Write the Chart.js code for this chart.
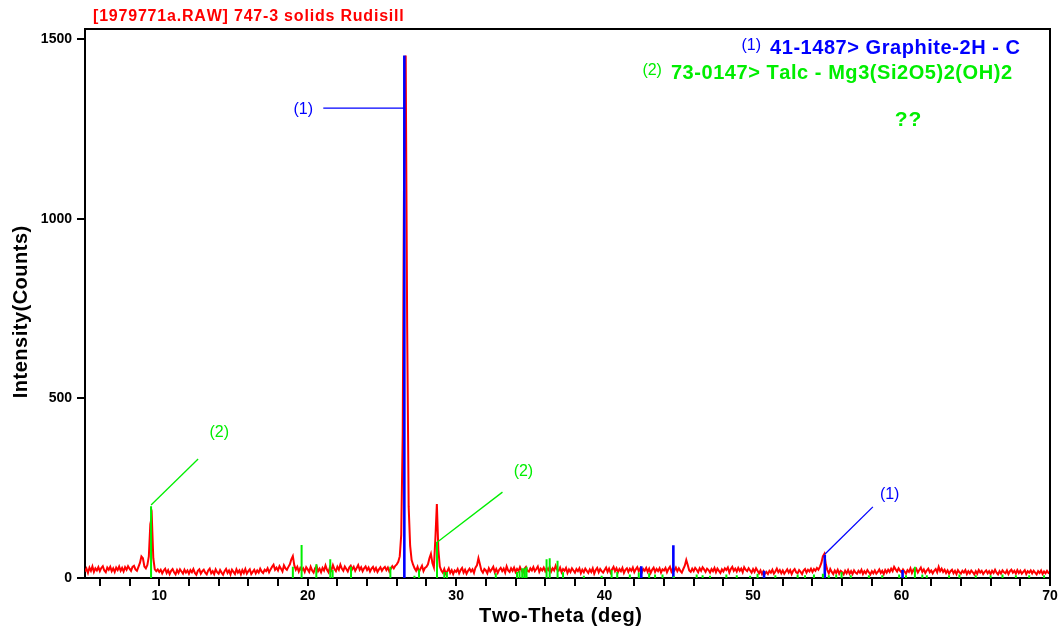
<!DOCTYPE html>
<html>
<head>
<meta charset="utf-8">
<script src="https://cdn.jsdelivr.net/npm/chart.js@4.4.1/dist/chart.umd.min.js"></script>
<style>
html,body{margin:0;padding:0;background:#fff;}
#wrap{width:1060px;height:635px;}
</style>
</head>
<body>
<div id="wrap"><canvas id="c" width="1060" height="635"></canvas></div>
<script>
// ---- Data ----
const chartTitle = "[1979771a.RAW] 747-3 solids Rudisill";
const xTitle = "Two-Theta (deg)";
const yTitle = "Intensity(Counts)";
const xTickValues = [6,8,10,12,14,16,18,20,22,24,26,28,30,32,34,36,38,40,42,44,46,48,50,52,54,56,58,60,62,64,66,68,70];
const xTickLabels = [10,20,30,40,50,60,70];
const yTickValues = [0,500,1000,1500];

// measured scan: two-theta start and step, counts
const scanStart = 5.0;
const scanStep = 0.1;
const scanCounts = [
18,26,14,29,20,32,17,27,21,30,
19,28,33,21,16,29,23,31,19,27,
17,29,22,32,20,28,18,30,23,33,
26,20,31,34,24,20,31,42,60,55,
32,27,36,60,150,170,55,24,19,24,
17,23,13,21,26,14,22,11,20,25,
16,10,22,14,24,18,12,23,15,21,
12,22,16,25,14,9,20,24,12,19,
23,15,10,21,26,13,19,11,24,16,
12,22,15,9,19,25,14,21,10,23,
17,11,24,15,21,10,22,14,25,12,
19,24,11,17,23,13,21,15,26,18,
14,23,19,27,16,24,31,37,23,29,
21,33,26,18,35,27,23,31,38,52,
61,35,23,31,18,28,21,27,17,30,
24,17,31,21,15,27,33,19,26,16,
28,21,35,23,16,30,22,36,25,19,
31,23,37,26,20,32,25,18,29,34,
24,31,20,28,36,23,30,19,27,32,
22,29,18,26,31,20,28,17,24,30,
20,27,31,22,29,18,26,33,27,34,
38,45,60,120,400,1200,1454,700,200,90,
50,37,27,20,31,17,26,34,19,28,
31,38,55,67,42,30,110,206,80,32,
21,15,25,12,19,27,14,22,11,21,
17,25,13,22,28,15,23,12,20,26,
18,24,14,29,35,55,38,21,15,25,
21,13,27,18,24,31,16,25,14,23,
28,19,26,15,32,21,17,27,20,29,
17,25,19,30,21,15,26,31,20,18,
27,21,30,19,25,32,17,26,21,29,
19,28,22,31,18,27,21,34,23,20,
29,16,25,20,28,14,24,17,27,21,
15,25,19,27,13,23,16,26,20,14,
24,17,27,12,22,28,16,25,19,15,
22,29,17,26,15,24,31,19,27,16,
25,19,28,14,23,27,17,26,20,29,
16,24,30,19,27,15,25,20,28,17,
26,14,23,29,17,25,19,27,15,24,
21,28,16,25,31,18,26,21,29,19,
27,20,15,25,34,50,36,21,17,26,
19,28,23,16,27,20,30,24,17,26,
22,15,25,19,28,16,26,20,14,24,
18,27,22,29,15,25,31,20,26,18,
28,20,26,16,30,23,19,27,21,15,
25,17,27,20,13,21,11,19,12,17,
11,20,15,23,12,18,26,16,22,13,
21,12,18,24,15,22,11,20,25,16,
13,22,17,11,21,25,15,23,18,26,
17,25,20,28,23,31,42,60,67,38,
22,13,25,17,11,21,14,23,12,20,
16,10,20,13,22,12,19,11,21,15,
12,20,15,23,11,19,13,22,16,10,
19,13,21,12,17,24,14,20,11,22,
15,23,17,26,19,31,24,18,27,20,
16,24,18,12,22,17,27,14,23,18,
25,15,22,29,17,24,14,21,26,16,
21,13,20,25,16,31,19,26,17,23,
14,21,12,19,23,13,20,11,22,16,
12,20,15,22,11,19,13,21,16,10,
19,12,22,15,20,11,17,21,13,19,
11,20,14,23,15,10,19,12,21,16,
13,21,11,19,23,15,20,12,22,14,
20,12,17,22,11,19,15,21,13,20,
15,10,19,14,21,11,18,13,20,14,
16
];

// reference pattern (1) 41-1487 Graphite-2H
const graphitePos = [26.51, 42.47, 44.63, 50.74, 54.83, 60.07];
const graphiteInt = [1454, 33, 91, 20, 64, 22];

// reference pattern (2) 73-0147 Talc
const talcPos = [9.45,19.0,19.59,20.58,21.52,21.68,22.92,25.57,27.19,27.5,28.71,29.2,29.38,32.67,34.1,34.27,34.45,34.6,34.74,36.09,36.3,36.83,37.2,38.6,39.8,40.47,40.85,41.7,42.3,43.0,43.4,43.9,44.66,46.2,46.6,47.1,48.2,48.9,49.8,50.3,51.5,53.0,53.5,54.1,54.7,55.1,55.6,55.96,56.58,57.8,58.7,59.84,60.3,60.9,61.4,61.7,63.2,63.9,65.0,66.0,66.8,67.7,68.6,69.6];
const talcInt = [200,31,92,38,52,22,31,31,6,24,101,17,17,13,17,20,27,27,31,52,55,48,16,6,6,22,17,10,15,13,10,10,5,10,8,6,10,8,6,12,8,10,8,10,12,8,10,17,8,8,8,10,8,31,10,8,8,10,8,8,10,8,8,8];

// legend entries
const legendNums = ["(1)", "(2)"];
const legendTexts = ["41-1487> Graphite-2H - C", "73-0147> Talc - Mg3(Si2O5)2(OH)2"];
const noteText = "??";

// peak markers: label, label position, leader line from -> to (data units)
const markLabels = ["(1)", "(2)", "(2)", "(1)"];
const markPattern = [0, 1, 1, 0];
const markLabelX = [19.7, 14.04, 34.53, 59.2];
const markLabelY = [1305, 404, 295, 231];
const markFromX = [21.05, 12.62, 33.12, 58.07];
const markFromY = [1308, 331, 239, 198];
const markToX = [26.51, 9.45, 28.74, 54.83];
const markToY = [1308, 203, 100, 66];

// ---- Styles ----
const RED = '#ff0000', BLUE = '#0000ff', GREEN = '#00ee00';
const patColors = [BLUE, GREEN];
const FONT = "'Liberation Sans', Arial, Helvetica, sans-serif";

// ---- Build datasets ----
const scanData = scanCounts.map((v, i) => ({x: +(scanStart + i * scanStep).toFixed(2), y: v}));
function sticks(pos, ints) {
  const d = [];
  pos.forEach((p, i) => { d.push({x: p, y: 0}); d.push({x: p, y: ints[i]}); d.push({x: p, y: null}); });
  return d;
}
const leaderSets = markLabels.map((l, i) => ({
  data: [{x: markFromX[i], y: markFromY[i]}, {x: markToX[i], y: markToY[i]}],
  borderColor: patColors[markPattern[i]], borderWidth: 1.3, pointRadius: 0, tension: 0, order: 0
}));

function spaced(ctx, text, x, y, spacing, align) {
  // draw text with extra letter spacing
  let w = 0;
  for (const ch of text) w += ctx.measureText(ch).width + spacing;
  w -= spacing;
  let start = align === 'right' ? x - w : (align === 'center' ? x - w / 2 : x);
  const prev = ctx.textAlign;
  ctx.textAlign = 'left';
  for (const ch of text) { ctx.fillText(ch, start, y); start += ctx.measureText(ch).width + spacing; }
  ctx.textAlign = prev;
  return w;
}

const textPlugin = {
  id: 'texts',
  afterDraw(chart) {
    const ctx = chart.ctx, a = chart.chartArea;
    const xs = chart.scales.x, ys = chart.scales.y;
    ctx.save();
    // frame
    ctx.strokeStyle = '#000'; ctx.lineWidth = 2;
    ctx.beginPath();
    ctx.moveTo(a.left, a.top); ctx.lineTo(a.right, a.top); ctx.lineTo(a.right, a.bottom);
    ctx.stroke();
    ctx.textBaseline = 'middle';
    // title
    ctx.fillStyle = RED; ctx.font = "bold 16px " + FONT;
    spaced(ctx, chartTitle, a.left + 8, 17, 0.8, 'left');
    // axis titles
    ctx.fillStyle = '#000'; ctx.font = "bold 20px " + FONT;
    spaced(ctx, xTitle, (a.left + a.right) / 2 - 7, 616, 0.6, 'center');
    ctx.save(); ctx.translate(21, 312); ctx.rotate(-Math.PI / 2);
    spaced(ctx, yTitle, 0, 0, 0.5, 'center'); ctx.restore();
    // legend
    const rightEdges = [a.right - 30, a.right - 38];
    const rowsY = [48, 73];
    legendTexts.forEach((t, i) => {
      ctx.font = "bold 20px " + FONT; ctx.fillStyle = patColors[i];
      const w = spaced(ctx, t, rightEdges[i], rowsY[i], 0.55, 'right');
      ctx.font = "16px " + FONT;
      spaced(ctx, legendNums[i], rightEdges[i] - w - 9, rowsY[i] - 2, 0, 'right');
    });
    ctx.font = "bold 21px " + FONT; ctx.fillStyle = GREEN;
    spaced(ctx, noteText, 908, 120, 1, 'center');
    // peak marker labels
    ctx.font = "16px " + FONT;
    markLabels.forEach((l, i) => {
      ctx.fillStyle = patColors[markPattern[i]];
      spaced(ctx, l, xs.getPixelForValue(markLabelX[i]), ys.getPixelForValue(markLabelY[i]), 0, 'center');
    });
    ctx.restore();
  }
};

new Chart(document.getElementById('c'), {
  type: 'line',
  data: {
    datasets: [
      ...leaderSets,
      {data: sticks(talcPos, talcInt), borderColor: GREEN, borderWidth: 2, pointRadius: 0, spanGaps: false, order: 1},
      {data: sticks(graphitePos, graphiteInt), borderColor: BLUE, borderWidth: 2.6, pointRadius: 0, spanGaps: false, order: 1},
      {data: scanData, borderColor: RED, borderWidth: 2, pointRadius: 0, tension: 0, order: 2}
    ]
  },
  options: {
    responsive: false, animation: false, parsing: true,
    layout: {padding: {left: 0, right: 10, top: 29, bottom: 0}},
    plugins: {legend: {display: false}, tooltip: {enabled: false}, title: {display: false}},
    scales: {
      x: {
        type: 'linear', min: 5, max: 70,
        afterBuildTicks: s => { s.ticks = xTickValues.map(v => ({value: v})); },
        afterFit: s => { s.height = 57; },
        ticks: {
          autoSkip: false, maxRotation: 0, padding: 2, color: '#000',
          font: {family: FONT, size: 14, weight: 'bold'},
          callback: v => xTickLabels.includes(v) ? String(v) : ''
        },
        grid: {drawOnChartArea: false, drawTicks: true, tickLength: 8, color: '#000', lineWidth: 2},
        border: {display: true, color: '#000', width: 2}
      },
      y: {
        type: 'linear', min: 0, max: 1528,
        afterBuildTicks: s => { s.ticks = yTickValues.map(v => ({value: v})); },
        afterFit: s => { s.width = 85; },
        ticks: {padding: 5, color: '#000', font: {family: FONT, size: 14, weight: 'bold'}, callback: v => String(v)},
        grid: {drawOnChartArea: false, drawTicks: true, tickLength: 8, color: '#000', lineWidth: 2},
        border: {display: true, color: '#000', width: 2}
      }
    }
  },
  plugins: [textPlugin]
});
</script>
</body>
</html>
